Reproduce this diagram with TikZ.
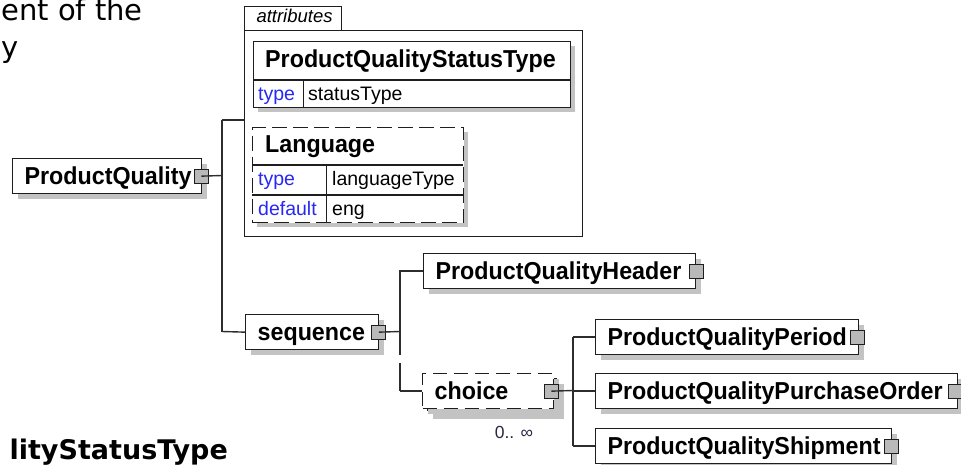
\documentclass[tikz,border=0pt]{standalone}
\usepackage{fontspec}
\setmainfont{Liberation Sans}
\newfontfamily\dv{DejaVu Sans}
\newfontfamily\ef{Liberation Sans}[FakeStretch=0.95]
\usetikzlibrary{shadows,calc}
\definecolor{bcol}{RGB}{30,30,30}
\definecolor{lcol}{RGB}{45,45,45}
\definecolor{shad}{RGB}{195,195,195}
\definecolor{btnfill}{RGB}{185,185,185}
\definecolor{attrblue}{RGB}{40,40,245}
\definecolor{numcol}{RGB}{40,40,70}
\newcommand{\bigb}{\ef\bfseries\fontsize{24.5}{28}\selectfont}
\newcommand{\smallr}{\fontsize{19.5}{22}\selectfont}
\begin{document}
\begin{tikzpicture}[x=1pt,y=-1pt,
  conn/.style={draw=lcol, line width=1.4pt},
  tline/.style={draw=bcol, line width=1.2pt},
  elem/.style={draw=bcol, line width=1.3pt, fill=white, anchor=north west,
    inner xsep=0pt, inner ysep=0pt, minimum height=35pt, align=left, font=\bigb,
    text height=18.5pt, text depth=1.5pt,
    drop shadow={shadow xshift=5pt, shadow yshift=-5pt, fill=shad, opacity=1},
    execute at begin node={\hspace*{12pt}}},
  btn/.style={draw=bcol, line width=1.1pt, fill=btnfill, minimum size=14pt, inner sep=0pt},
  cell/.style={anchor=north west, inner xsep=0pt, inner ysep=0pt, align=left},
  hcell/.style={cell, font=\bigb, text height=16.5pt, text depth=3.5pt},
  rcell/.style={cell, font=\smallr, text height=15.5pt, text depth=2.5pt},
  dsh/.style={dash pattern=on 15pt off 6pt},
]
\useasboundingbox (0,0) rectangle (961,465);

% outside text
\node[font=\dv\fontsize{29}{34}\selectfont, anchor=base east, inner sep=0pt] (t1) at (143,21) {ent of the};
\node[font=\dv\fontsize{29}{34}\selectfont, anchor=base east, inner sep=0pt] (t2) at (19,58) {y};
\node[font=\dv\bfseries\fontsize{27}{32}\selectfont, anchor=base east, inner sep=0pt] (t3) at (228,459) {lityStatusType};

% attributes container
\node[draw=bcol, line width=1pt, anchor=north west, minimum width=338pt, minimum height=206pt, inner sep=0pt] (attr) at (244,30) {};
\node[draw=bcol, line width=1pt, cell, text width=97pt, minimum height=24pt,
  font=\fontsize{18.5}{20}\selectfont\itshape, text height=13pt, text depth=4pt,
  execute at begin node={\hspace*{12pt}}] (tab) at (244,6) {attributes};

% ProductQualityStatusType table
\fill[shad] (258,46) rectangle (575,112);
\node[draw=bcol, line width=1.3pt, fill=white, anchor=north west, minimum width=317pt, minimum height=66pt, inner sep=0pt] (pqst) at (253,41) {};
\node[hcell, text width=317pt, minimum height=39pt, execute at begin node={\hspace*{12pt}}] (pqsth) at (253,41) {ProductQualityStatusType};
\node[rcell, text width=50pt, minimum height=27pt, text=attrblue, execute at begin node={\hspace*{5pt}}] (pqst1a) at (253,80) {type};
\node[rcell, text width=267pt, minimum height=27pt, execute at begin node={\hspace*{5pt}}] (pqst1b) at (303,80) {statusType};
\draw[tline] (pqst1a.north west) -- (pqst1b.north east);
\draw[tline] (pqst1a.north east) -- (pqst1a.south east);

% Language table
\fill[shad] (257,132) rectangle (468,227);
\node[draw=bcol, line width=1.3pt, dsh, fill=white, anchor=north west, minimum width=211pt, minimum height=95pt, inner sep=0pt] (lang) at (252,127) {};
\node[hcell, text width=211pt, minimum height=38pt, execute at begin node={\hspace*{13pt}}] (langh) at (252,127) {Language};
\node[rcell, text width=74pt, minimum height=30pt, text height=14pt, text depth=4pt, text=attrblue, execute at begin node={\hspace*{6pt}}] (lang1a) at (252,165) {type};
\node[rcell, text width=137pt, minimum height=30pt, text height=14pt, text depth=4pt, execute at begin node={\hspace*{6pt}}] (lang1b) at (326,165) {languageType};
\node[rcell, text width=74pt, minimum height=27pt, text=attrblue, execute at begin node={\hspace*{6pt}}] (lang2a) at (252,195) {default};
\node[rcell, text width=137pt, minimum height=27pt, execute at begin node={\hspace*{6pt}}] (lang2b) at (326,195) {eng};
\draw[tline] (lang1a.north west) -- (lang1b.north east);
\draw[tline] (lang2a.north west) -- (lang2b.north east);
\draw[tline] (lang1a.north east) -- (lang2a.south east);

% element boxes
\node[elem, text width=189pt] (pq) at (12,158) {ProductQuality};
\node[elem, text width=133pt] (seq) at (245,314) {sequence};
\node[elem, text width=272pt] (hdr) at (423,253) {ProductQualityHeader};
\node[elem, text width=263pt] (per) at (595,319) {ProductQualityPeriod};
\node[elem, text width=362pt] (pur) at (595,373) {ProductQualityPurchaseOrder};
\node[elem, text width=296pt] (shp) at (595,428) {ProductQualityShipment};

% choice (stacked, optional)
\node[elem, dash pattern=on 14pt off 7pt, text width=131pt] (chb) at (427,378) {};
\node[elem, dash pattern=on 14pt off 7pt, drop shadow={opacity=0}, text width=131pt] (ch) at (422,373) {choice};
\node[font=\fontsize{17.5}{18}\selectfont, text=numcol, inner sep=0pt] (occ) at (514,432) {0.. ∞};

% expand buttons
\node[btn] (pqb) at ($(pq.east)+(-1,0)$) {};
\node[btn] (seqb) at ($(seq.east)+(-0.5,0)$) {};
\node[btn] (hdrb) at ($(hdr.east)+(0,0)$) {};
\node[btn] (perb) at ($(per.east)+(-1.5,0)$) {};
\node[btn] (purb) at ($(pur.east)+(-3,0)$) {};
\node[btn] (shpb) at ($(shp.east)+(-1,0)$) {};
\node[btn] (chbtn) at ($(ch.east)+(-3,0)$) {};

% connectors
\coordinate (j1) at (222,175.5);
\coordinate (jA) at (222,120);
\coordinate (jS) at (222,331.5);
\draw[conn] (pqb.center) -- (j1);
\draw[conn] (jA) -- (jS);
\draw[conn] (jA) -- (jA -| attr.west);
\draw[conn] (jS) -- (seq.west);

\coordinate (k1) at (400,331.5);
\draw[conn] (seqb.center) -- (k1);
\draw[conn] (k1) |- (hdr.west);
\draw[conn, dash pattern=on 23.5pt off 8pt on 40pt off 1pt] (k1) -- (k1 |- ch.west);
\draw[conn] (k1 |- ch.west) -- (ch.west);

\coordinate (m1) at (573,390.5);
\draw[conn] (chbtn.center) -- (m1);
\draw[conn] (m1 |- per.west) -- (m1 |- shp.west);
\draw[conn] (m1 |- per.west) -- (per.west);
\draw[conn] (m1 |- pur.west) -- (pur.west);
\draw[conn] (m1 |- shp.west) -- (shp.west);
\end{tikzpicture}
\end{document}
